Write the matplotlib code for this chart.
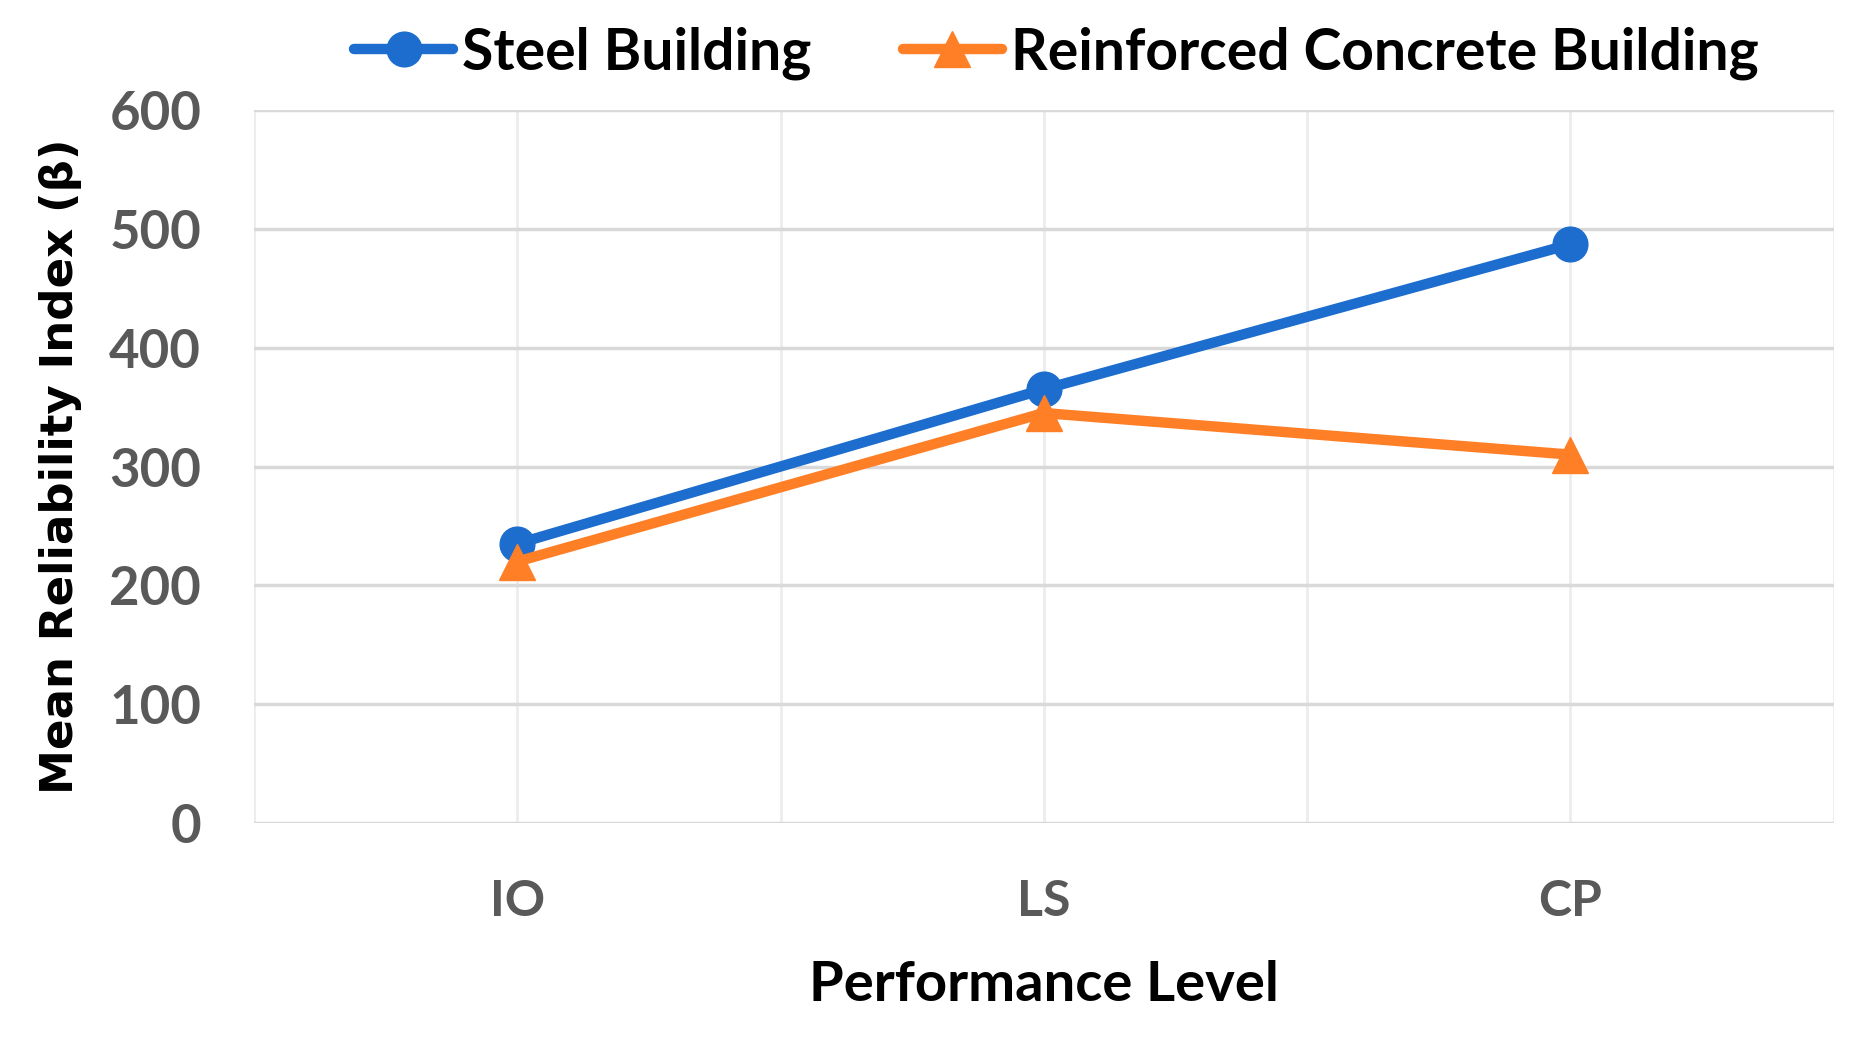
import matplotlib
matplotlib.use("Agg")
import matplotlib.pyplot as plt

# data
levels = ["IO", "LS", "CP"]
steel = [235, 365, 487]
concrete = [220, 345, 310]
y_ticks = [0, 100, 200, 300, 400, 500, 600]

BLUE = "#1c6dcd"
ORANGE = "#ff7f27"
TICK_GRAY = "#595959"

fig = plt.figure(figsize=(18.66, 10.42), dpi=100)
ax = fig.add_axes([0.1361, 0.2102, 0.8466, 0.6842])

x = list(range(len(levels)))
ax.plot(x, steel, color=BLUE, linewidth=7.5, marker="o", markersize=25,
        label="Steel Building", solid_capstyle="round", zorder=3)
ax.plot(x, concrete, color=ORANGE, linewidth=7.5, marker="^", markersize=26,
        label="Reinforced Concrete Building", solid_capstyle="round", zorder=3)

ax.set_xlim(-0.5, len(levels) - 0.5)
ax.set_ylim(0, 600)
ax.set_yticks(y_ticks)
ax.set_xticks(x)
ax.set_xticklabels(levels)

# gridlines: horizontal darker, vertical at centers and boundaries lighter
for yv in y_ticks:
    ax.axhline(yv, color="#d9d9d9", linewidth=2.5, zorder=1)
for xv in [i * 0.5 - 0.5 for i in range(2 * len(levels) + 1)]:
    ax.axvline(xv, color="#ececec", linewidth=2, zorder=0)

for s in ax.spines.values():
    s.set_visible(False)
ax.tick_params(axis="x", length=0, pad=40, labelsize=36, labelcolor=TICK_GRAY)
ax.tick_params(axis="y", length=0, pad=38, labelsize=38, labelcolor=TICK_GRAY)
for lab in ax.get_xticklabels() + ax.get_yticklabels():
    lab.set_fontfamily("Lato")
    lab.set_fontweight("bold")

ax.set_xlabel("Performance Level", fontsize=40.5, fontweight="bold",
              fontfamily="Lato", color="black", labelpad=26)
ax.set_ylabel("Mean Reliability Index (β)", fontsize=32.5, fontweight="bold",
              fontfamily="DejaVu Sans", color="black", labelpad=20)

fig.legend(loc="upper center", bbox_to_anchor=(0.566, 1.024), ncol=2,
           frameon=False, prop={"family": "Lato", "weight": "bold", "size": 41},
           handlelength=1.75, handletextpad=0.15, columnspacing=1.6)

fig.savefig("out.png", dpi=100)
